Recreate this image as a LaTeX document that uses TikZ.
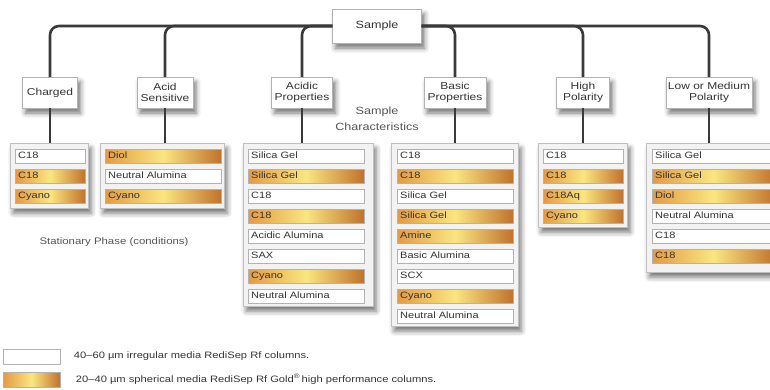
\documentclass[tikz,border=0pt]{standalone}
\usepackage{fontspec}
\setmainfont{Liberation Sans}[FakeStretch=1.2]
\usepackage{xcolor}
\usetikzlibrary{shadows.blur, positioning}
\definecolor{goldL}{HTML}{E39A45}
\definecolor{goldM}{HTML}{FAE680}
\definecolor{goldR}{HTML}{C0722C}
\definecolor{linkgray}{HTML}{3A3A3A}
\definecolor{txtgray}{HTML}{333333}
\definecolor{notegray}{HTML}{555555}
\tikzstyle{link}=[draw=linkgray, line width=2.6pt, rounded corners=9pt]
\tikzstyle{soft}=[blur shadow={shadow xshift=3pt, shadow yshift=-5pt, shadow blur radius=5pt, shadow opacity=55}]
\tikzstyle{topbox}=[draw=gray!60, fill=white, soft, minimum height=31pt, align=center, inner sep=1pt, text=txtgray, font=\fontsize{10}{11}\selectfont]
\tikzstyle{phasebox}=[draw=gray!50, fill=gray!10, soft, anchor=north west, inner sep=0pt]
\tikzstyle{plainrow}=[draw=gray!60, fill=white, minimum height=14pt, inner ysep=0pt, inner xsep=3pt, anchor=west, align=left, text width=110pt, text height=7pt, text depth=2pt, text=txtgray, font=\fontsize{9.2}{10}\selectfont]
\tikzstyle{goldrow}=[plainrow, left color=goldL, right color=goldR, middle color=goldM]
\tikzstyle{note}=[text=notegray, font=\fontsize{9.5}{16}\selectfont]
\tikzstyle{legtext}=[text=txtgray, font=\fontsize{9.3}{10}\selectfont, anchor=west]

\begin{document}
\begin{tikzpicture}[x=1pt, y=-1pt]
		\useasboundingbox (0,0) rectangle (770,389);
		\node[topbox, minimum width=89pt, minimum height=34pt, font=\fontsize{10.5}{12}\selectfont] (sample) at (377,26) {Sample};
		\node[topbox, minimum width=55pt] (chg) at (50,92.5) {Charged};
		\node[topbox, minimum width=56pt] (acs) at (165,92.5) {Acid\\Sensitive};
		\node[topbox, minimum width=61pt] (acp) at (302,92.5) {Acidic\\Properties};
		\node[topbox, minimum width=62pt] (bas) at (455,92.5) {Basic\\Properties};
		\node[topbox, minimum width=53pt] (hip) at (583,92.5) {High\\Polarity};
		\node[topbox, minimum width=86pt] (lmp) at (709,92.5) {Low or Medium\\Polarity};
		%---------------------
		\draw[link] (sample.west) -| (chg.north);
		\draw[link] (sample.west) -| (acs.north);
		\draw[link] (sample.west) -| (acp.north);
		\draw[link] (sample.east) -| (bas.north);
		\draw[link] (sample.east) -| (hip.north);
		\draw[link] (sample.east) -| (lmp.north);
		%---------------------
		\node[phasebox, minimum width=78pt, minimum height=65pt] (chgp) at (10,143) {};
		\node[phasebox, minimum width=124pt, minimum height=65pt] (acsp) at (100,143) {};
		\node[phasebox, minimum width=130pt, minimum height=163pt] (acpp) at (243,143) {};
		\node[phasebox, minimum width=127pt, minimum height=183pt] (basp) at (391,143) {};
		\node[phasebox, minimum width=89pt, minimum height=84pt] (hipp) at (538,143) {};
		\node[phasebox, minimum width=135pt, minimum height=129pt] (lmpp) at (646,143) {};
		\draw[link] (chg.south) -- (chg.south |- chgp.north);
		\draw[link] (acs.south) -- (acs.south |- acsp.north);
		\draw[link] (acp.south) -- (acp.south |- acpp.north);
		\draw[link] (bas.south) -- (bas.south |- basp.north);
		\draw[link] (hip.south) -- (hip.south |- hipp.north);
		\draw[link] (lmp.south) -- (lmp.south |- lmpp.north);
		%---------------------
		\node[plainrow, text width=64pt] (chg1) at (15,156) {C18};
		\node[goldrow, text width=64pt] (chg2) at (15,176) {C18};
		\node[goldrow, text width=64pt] (chg3) at (15,196) {Cyano};
		%---------------------
		\node[goldrow] (acs1) at (105,156) {Diol};
		\node[plainrow] (acs2) at (105,176) {Neutral Alumina};
		\node[goldrow] (acs3) at (105,196) {Cyano};
		%---------------------
		\node[plainrow] (acp1) at (248,156) {Silica Gel};
		\node[goldrow] (acp2) at (248,176) {Silica Gel};
		\node[plainrow] (acp3) at (248,196) {C18};
		\node[goldrow] (acp4) at (248,216) {C18};
		\node[plainrow] (acp5) at (248,236) {Acidic Alumina};
		\node[plainrow] (acp6) at (248,256) {SAX};
		\node[goldrow] (acp7) at (248,276) {Cyano};
		\node[plainrow] (acp8) at (248,296) {Neutral Alumina};
		%---------------------
		\node[plainrow] (bas1) at (397,156) {C18};
		\node[goldrow] (bas2) at (397,176) {C18};
		\node[plainrow] (bas3) at (397,196) {Silica Gel};
		\node[goldrow] (bas4) at (397,216) {Silica Gel};
		\node[goldrow] (bas5) at (397,236) {Amine};
		\node[plainrow] (bas6) at (397,256) {Basic Alumina};
		\node[plainrow] (bas7) at (397,276) {SCX};
		\node[goldrow] (bas8) at (397,296) {Cyano};
		\node[plainrow] (bas9) at (397,316) {Neutral Alumina};
		%---------------------
		\node[plainrow, text width=74pt] (hip1) at (543,156) {C18};
		\node[goldrow, text width=74pt] (hip2) at (543,176) {C18};
		\node[goldrow, text width=74pt] (hip3) at (543,196) {C18Aq};
		\node[goldrow, text width=74pt] (hip4) at (543,216) {Cyano};
		%---------------------
		\node[plainrow, text width=117pt] (lmp1) at (652,156) {Silica Gel};
		\node[goldrow, text width=117pt] (lmp2) at (652,176) {Silica Gel};
		\node[goldrow, text width=117pt] (lmp3) at (652,196) {Diol};
		\node[plainrow, text width=117pt] (lmp4) at (652,216) {Neutral Alumina};
		\node[plainrow, text width=117pt] (lmp5) at (652,236) {C18};
		\node[goldrow, text width=117pt] (lmp6) at (652,256) {C18};
		%---------------------
		\node[note, align=center, font=\fontsize{10.5}{16}\selectfont] (charac) at (377,119) {Sample\\Characteristics};
		\node[note] (statph) at (114,242) {Stationary Phase (conditions)};
		%---------------------
		\node[plainrow, text width=51pt, minimum height=15pt] (legw) at (3,356.5) {};
		\node[goldrow, text width=51pt, minimum height=15pt] (legg) at (3,379.5) {};
		\node[legtext, right=10pt of legw] (legwt) {40--60 µm irregular media RediSep Rf columns.};
		\node[legtext, right=12pt of legg] (leggt) {20--40 µm spherical media RediSep Rf Gold\textsuperscript{®}\,high performance columns.};
	\end{tikzpicture}
\end{document}
